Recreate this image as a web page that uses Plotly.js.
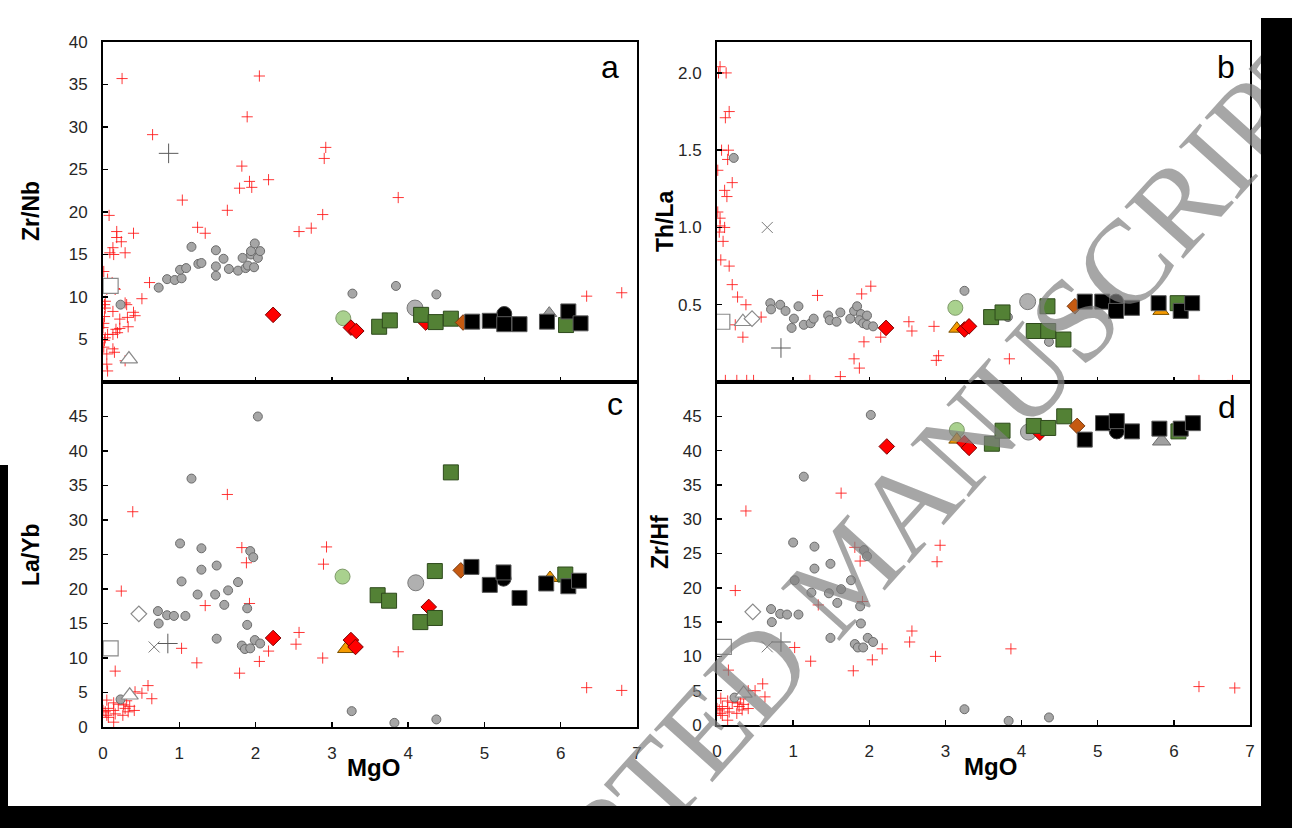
<!DOCTYPE html>
<html><head><meta charset="utf-8">
<script src="https://cdn.plot.ly/plotly-3.0.1.min.js"></script>
<style>
html,body{margin:0;padding:0;background:#fff;}
#wrap{position:relative;width:1292px;height:828px;overflow:hidden;}
#chart{position:absolute;left:0;top:0;width:1292px;height:828px;}
.blk{position:absolute;background:#000;}
</style></head>
<body><div id="wrap"><div id="chart"></div>
<div class="blk" style="left:1261px;top:18px;width:31px;height:810px"></div>
<div class="blk" style="left:0;top:806px;width:1292px;height:22px"></div>
<div class="blk" style="left:0;top:465px;width:8px;height:363px"></div>
</div>
<script>
// ---------- DATA: [MgO, ratio] pairs ----------
// Panel a : Zr/Nb
const aRedPlus = [[0.25,35.7],[2.05,36.0],[1.89,31.2],[0.65,29.1],[2.92,27.6],[2.90,26.3],[1.82,25.4],[1.92,23.6],[1.79,22.8],[1.95,22.9],[2.17,23.8],[1.04,21.4],[1.63,20.2],[2.88,19.7],[2.57,17.7],[2.73,18.1],[1.24,18.2],[1.34,17.5],[0.08,19.6],[0.18,17.7],[0.40,17.5],[0.18,17.0],[0.24,16.5],[0.13,15.8],[0.09,15.2],[0.14,15.0],[0.29,15.2],[0.01,13.0],[0.06,12.1],[0.12,11.7],[0.61,11.7],[0.16,10.9],[0.05,10.9],[0.15,11.0],[0.51,9.8],[0.03,9.5],[0.02,9.1],[0.29,9.3],[0.31,9.1],[0.13,8.3],[0.03,8.7],[0.40,8.2],[0.42,7.8],[0.22,7.4],[0.32,7.6],[0.33,6.5],[0.22,6.3],[0.02,7.7],[0.01,6.9],[0.0,6.4],[0.17,6.2],[0.13,5.6],[0.06,5.6],[0.03,5.2],[0.19,5.8],[0.02,4.9],[0.01,4.1],[0.13,3.9],[0.15,3.5],[0.05,3.3],[0.29,2.5],[0.05,2.1],[0.06,1.3],[3.87,21.7],[6.34,10.1],[6.80,10.5]];
const aGrayCircle = [[0.23,9.1],[0.73,11.1],[0.84,12.1],[0.94,12.0],[1.03,12.2],[1.01,13.2],[1.09,13.4],[1.16,15.9],[1.25,13.9],[1.29,14.0],[1.48,15.5],[1.48,13.6],[1.48,12.5],[1.58,14.5],[1.65,13.3],[1.77,13.1],[1.83,14.6],[1.87,13.4],[1.90,13.7],[1.94,15.0],[1.94,15.4],[1.99,16.3],[1.98,13.5],[2.03,14.6],[2.06,15.4],[3.27,10.4],[3.84,11.3],[4.37,10.3]];
const aBigGray = [[4.09,8.7]];
const aDarkPlus = [[0.86,26.9]];
const aGrayX = [];
const aOpenSquare = [[0.10,11.3]];
const aOpenTriangle = [[0.34,2.7]];
const aOpenDiamond = [];
const aLightGreen = [[3.15,7.5]];
const aOrangeTri = [];
const aRedDiamond = [[2.23,7.9],[3.25,6.4],[3.32,6.0],[4.23,7.0]];
const aGreenSquare = [[3.62,6.5],[3.76,7.25],[4.17,7.9],[4.36,7.05],[4.56,7.45],[6.07,6.7]];
const aBrownDiamond = [[4.72,7.0]];
const aGrayTri = [[5.85,8.1]];
const aBlackCircle = [[5.26,8.0]];
const aBlackSquare = [[4.84,7.1],[5.07,7.2],[5.26,6.8],[5.46,6.8],[5.82,7.1],[6.10,8.3],[6.26,6.9]];

// Panel b : Th/La
const bRedPlus = [[0.04,2.04],[0.02,2.0],[0.12,2.0],[0.16,1.75],[0.11,1.71],[0.06,1.50],[0.15,1.50],[0.14,1.44],[0.01,1.37],[0.20,1.29],[0.10,1.24],[0.13,1.20],[0.01,1.10],[0.04,1.06],[0.04,1.01],[0.10,1.0],[0.03,0.97],[0.08,0.91],[0.05,0.79],[0.16,0.75],[0.20,0.63],[0.27,0.55],[0.38,0.50],[0.58,0.42],[0.24,0.37],[0.34,0.29],[1.32,0.56],[2.02,0.62],[1.90,0.57],[1.93,0.26],[2.15,0.29],[1.80,0.15],[1.87,0.09],[1.62,0.035],[2.52,0.39],[2.56,0.33],[2.85,0.36],[2.91,0.17],[2.88,0.14],[3.84,0.15],[0.11,0.01],[0.26,0.01],[0.39,0.01],[0.48,0.01],[1.22,0.01],[6.33,0.01],[6.77,0.01]];
const bGrayCircle = [[0.70,0.51],[0.71,0.47],[0.83,0.50],[0.90,0.46],[1.07,0.49],[1.01,0.41],[0.98,0.35],[1.14,0.37],[1.23,0.38],[1.27,0.41],[1.46,0.43],[1.48,0.40],[1.57,0.39],[1.62,0.45],[1.75,0.41],[1.80,0.46],[1.84,0.49],[1.89,0.44],[1.87,0.40],[1.92,0.38],[1.97,0.43],[1.97,0.37],[2.05,0.36],[3.25,0.59],[0.22,1.45],[3.82,0.42],[4.36,0.26]];
const bBigGray = [[4.08,0.52]];
const bDarkPlus = [[0.84,0.22]];
const bGrayX = [[0.66,1.00]];
const bOpenSquare = [[0.07,0.39]];
const bOpenTriangle = [[0.34,0.39]];
const bOpenDiamond = [[0.46,0.41]];
const bLightGreen = [[3.13,0.48]];
const bOrangeTri = [[3.15,0.345],[5.83,0.46]];
const bRedDiamond = [[2.22,0.35],[3.25,0.34],[3.31,0.36]];
const bGreenSquare = [[3.60,0.42],[3.75,0.45],[4.34,0.49],[4.16,0.33],[4.35,0.33],[4.55,0.275],[6.05,0.51]];
const bBrownDiamond = [[4.70,0.49]];
const bGrayTri = [];
const bBlackCircle = [[5.24,0.52]];
const bBlackSquare = [[4.83,0.52],[5.06,0.52],[5.24,0.46],[5.45,0.48],[5.80,0.51],[6.09,0.46],[6.24,0.51]];

// Panel c : La/Yb
const cRedPlus = [[0.39,31.2],[1.63,33.7],[1.82,26.0],[1.88,23.8],[2.93,26.1],[2.89,23.6],[0.24,19.7],[1.34,17.6],[1.92,17.9],[2.57,13.7],[2.53,12.0],[1.03,11.4],[2.17,11.0],[2.88,10.0],[1.23,9.3],[2.05,9.5],[1.79,7.8],[0.16,8.1],[0.59,6.0],[0.64,4.1],[0.51,4.9],[0.42,5.1],[0.41,2.4],[0.05,3.9],[0.14,3.5],[0.20,3.3],[0.27,3.2],[0.31,3.8],[0.07,2.7],[0.03,2.2],[0.14,2.4],[0.05,1.7],[0.16,1.9],[0.29,2.7],[0.33,2.2],[0.26,1.7],[0.0,2.4],[0.14,0.7],[0.07,1.4],[0.35,3.0],[3.87,10.9],[6.34,5.7],[6.80,5.3]];
const cGrayCircle = [[2.03,45.0],[1.16,36.0],[1.01,26.6],[1.29,25.9],[1.29,22.8],[1.49,23.4],[1.03,21.1],[1.77,21.0],[1.64,19.8],[1.24,19.2],[1.47,19.2],[1.59,17.7],[1.93,25.5],[1.97,24.6],[1.89,17.2],[0.72,16.8],[0.73,15.0],[0.84,16.2],[0.93,16.1],[1.08,16.1],[1.89,14.8],[1.49,12.8],[1.99,12.6],[2.06,12.1],[1.82,11.8],[1.86,11.3],[1.93,11.4],[0.23,4.0],[3.26,2.3],[3.82,0.6],[4.37,1.1]];
const cBigGray = [[4.10,20.9]];
const cDarkPlus = [[0.85,12.1]];
const cGrayX = [[0.67,11.6]];
const cOpenSquare = [[0.10,11.4]];
const cOpenTriangle = [[0.35,4.6]];
const cOpenDiamond = [[0.47,16.4]];
const cLightGreen = [[3.14,21.8]];
const cOrangeTri = [[3.18,11.3],[5.86,21.6]];
const cRedDiamond = [[2.23,12.9],[3.25,12.6],[3.31,11.6],[4.27,17.4]];
const cGreenSquare = [[3.60,19.1],[3.75,18.3],[4.16,15.2],[4.35,15.8],[4.35,22.6],[4.56,36.9],[6.06,22.1]];
const cBrownDiamond = [[4.69,22.7]];
const cGrayTri = [];
const cBlackCircle = [[5.25,21.5]];
const cBlackSquare = [[4.83,23.2],[5.07,20.6],[5.25,22.4],[5.46,18.7],[5.81,20.8],[6.10,20.4],[6.24,21.2]];

// Panel d : Zr/Hf
const dRedPlus = [[0.38,31.2],[1.63,33.8],[1.81,25.9],[1.88,23.9],[2.93,26.2],[2.89,23.8],[0.24,19.6],[1.33,17.5],[1.91,18.0],[2.56,13.7],[2.53,12.1],[1.02,11.3],[2.17,11.1],[2.87,10.0],[1.23,9.3],[2.04,9.5],[1.79,7.9],[0.15,8.0],[0.60,6.0],[0.63,4.1],[0.50,5.0],[0.41,5.0],[0.41,2.4],[0.05,3.9],[0.14,3.5],[0.20,3.3],[0.27,3.2],[0.31,3.8],[0.07,2.7],[0.03,2.2],[0.14,2.4],[0.05,1.7],[0.16,1.9],[0.29,2.7],[0.33,2.2],[0.26,1.7],[0.0,2.4],[0.14,0.7],[0.07,1.4],[0.35,3.0],[3.86,11.1],[6.33,5.6],[6.80,5.4]];
const dGrayCircle = [[2.02,45.2],[1.14,36.2],[1.00,26.6],[1.28,26.0],[1.28,22.8],[1.49,23.5],[1.02,21.1],[1.76,21.1],[1.63,19.8],[1.24,19.3],[1.47,19.2],[1.58,17.8],[1.93,25.5],[1.97,24.6],[1.88,17.3],[0.71,16.9],[0.72,15.0],[0.83,16.2],[0.92,16.1],[1.07,16.1],[1.89,14.8],[1.49,12.7],[1.98,12.7],[2.05,12.1],[1.81,11.8],[1.85,11.3],[1.92,11.3],[0.23,4.0],[3.25,2.3],[3.83,0.6],[4.36,1.1]];
const dBigGray = [[4.09,42.7]];
const dDarkPlus = [[0.84,12.1]];
const dGrayX = [[0.66,11.4]];
const dOpenSquare = [[0.09,11.4]];
const dOpenTriangle = [[0.35,4.6]];
const dOpenDiamond = [[0.47,16.5]];
const dLightGreen = [[3.15,43.0]];
const dOrangeTri = [[3.15,41.6]];
const dRedDiamond = [[2.23,40.6],[3.25,41.1],[3.31,40.4],[4.24,42.6]];
const dGreenSquare = [[3.61,41.0],[3.75,42.9],[4.16,43.6],[4.35,43.3],[4.56,45.0],[6.06,42.8]];
const dBrownDiamond = [[4.73,43.6]];
const dGrayTri = [[5.84,41.4]];
const dBlackCircle = [[5.25,42.8]];
const dBlackSquare = [[4.83,41.6],[5.07,44.0],[5.25,44.3],[5.45,42.8],[5.81,43.2],[6.09,43.2],[6.25,44.0]];

// axis labels & ticks
const panelLetters = ['a','b','c','d'];
const yTitles = ['Zr/Nb','Th/La','La/Yb','Zr/Hf'];
const xTitle = 'MgO';
const watermark = 'ACCEPTED MANUSCRIPT';
const xTicks = [0,1,2,3,4,5,6,7];
const aYTicks = [5,10,15,20,25,30,35,40];
const bYTicks = [0.5,1.0,1.5,2.0];
const cdYTicks = [0,5,10,15,20,25,30,35,40,45];

// ---------- STYLES ----------
const S = {
  redPlus:   {symbol:'cross-thin', size:8, color:'rgba(255,20,20,0.85)', line:{color:'rgba(255,20,20,0.85)', width:1}},
  grayCircle:{symbol:'circle', size:9, color:'#a6a6a6', line:{color:'#6b6b6b', width:1}},
  bigGray:   {symbol:'circle', size:16, color:'#b0b0b0', line:{color:'#7a7a7a', width:1}},
  darkPlus:  {symbol:'cross-thin', size:14, color:'#5a5a5a', line:{color:'#5a5a5a', width:1}},
  grayX:     {symbol:'x-thin', size:11, color:'#7a7a7a', line:{color:'#7a7a7a', width:1}},
  openSquare:{symbol:'square', size:15, color:'#ffffff', line:{color:'#8a8a8a', width:1.2}},
  openTri:   {symbol:'triangle-up', size:15, color:'#ffffff', line:{color:'#8a8a8a', width:1.2}},
  openDia:   {symbol:'diamond', size:12, color:'#ffffff', line:{color:'#8a8a8a', width:1.2}},
  lightGreen:{symbol:'circle', size:15, color:'#a9d18e', line:{color:'#7f9a6a', width:1}},
  orangeTri: {symbol:'triangle-up', size:14, color:'#f59a00', line:{color:'#7a5000', width:1}},
  redDia:    {symbol:'diamond', size:12, color:'#ff0000', line:{color:'#7a0000', width:1}},
  greenSq:   {symbol:'square', size:15, color:'#538135', line:{color:'#2e4a1c', width:1}},
  brownDia:  {symbol:'diamond', size:12, color:'#c55a11', line:{color:'#7a3a10', width:1}},
  grayTri:   {symbol:'triangle-up', size:13, color:'#a0a0a0', line:{color:'#6e6e6e', width:1}},
  blackCircle:{symbol:'circle', size:15, color:'#000000', line:{color:'#404040', width:1}},
  blackSq:   {symbol:'square', size:15, color:'#000000', line:{color:'#5a5a5a', width:1}}
};

const panels = [
  {xa:'x', ya:'y', sets:[[aRedPlus,'redPlus'],[aGrayCircle,'grayCircle'],[aDarkPlus,'darkPlus'],[aGrayX,'grayX'],[aOpenSquare,'openSquare'],[aOpenTriangle,'openTri'],[aOpenDiamond,'openDia'],[aBigGray,'bigGray'],[aLightGreen,'lightGreen'],[aOrangeTri,'orangeTri'],[aRedDiamond,'redDia'],[aGreenSquare,'greenSq'],[aBrownDiamond,'brownDia'],[aGrayTri,'grayTri'],[aBlackCircle,'blackCircle'],[aBlackSquare,'blackSq']]},
  {xa:'x2', ya:'y2', sets:[[bRedPlus,'redPlus'],[bGrayCircle,'grayCircle'],[bDarkPlus,'darkPlus'],[bGrayX,'grayX'],[bOpenSquare,'openSquare'],[bOpenTriangle,'openTri'],[bOpenDiamond,'openDia'],[bBigGray,'bigGray'],[bLightGreen,'lightGreen'],[bOrangeTri,'orangeTri'],[bRedDiamond,'redDia'],[bGreenSquare,'greenSq'],[bBrownDiamond,'brownDia'],[bGrayTri,'grayTri'],[bBlackCircle,'blackCircle'],[bBlackSquare,'blackSq']]},
  {xa:'x3', ya:'y3', sets:[[cRedPlus,'redPlus'],[cGrayCircle,'grayCircle'],[cDarkPlus,'darkPlus'],[cGrayX,'grayX'],[cOpenSquare,'openSquare'],[cOpenTriangle,'openTri'],[cOpenDiamond,'openDia'],[cBigGray,'bigGray'],[cLightGreen,'lightGreen'],[cOrangeTri,'orangeTri'],[cRedDiamond,'redDia'],[cGreenSquare,'greenSq'],[cBrownDiamond,'brownDia'],[cGrayTri,'grayTri'],[cBlackCircle,'blackCircle'],[cBlackSquare,'blackSq']]},
  {xa:'x4', ya:'y4', sets:[[dRedPlus,'redPlus'],[dGrayCircle,'grayCircle'],[dDarkPlus,'darkPlus'],[dGrayX,'grayX'],[dOpenSquare,'openSquare'],[dOpenTriangle,'openTri'],[dOpenDiamond,'openDia'],[dBigGray,'bigGray'],[dLightGreen,'lightGreen'],[dOrangeTri,'orangeTri'],[dRedDiamond,'redDia'],[dGreenSquare,'greenSq'],[dBrownDiamond,'brownDia'],[dGrayTri,'grayTri'],[dBlackCircle,'blackCircle'],[dBlackSquare,'blackSq']]}
];

const traces = [];
panels.forEach(p => {
  p.sets.forEach(([pts, key]) => {
    if (!pts.length) return;
    const st = S[key];
    let m = {symbol:st.symbol, size:st.size, color:st.color, line:st.line};
    if (key === 'grayTri' && p.xa === 'x4') m = Object.assign({}, m, {size:16});
    traces.push({type:'scatter', mode:'markers', x:pts.map(q=>q[0]), y:pts.map(q=>q[1]),
      xaxis:p.xa, yaxis:p.ya, marker:m, hoverinfo:'x+y', showlegend:false});
  });
});

// ---------- LAYOUT ----------
const W = 1292, H = 828;
const PX = v => v / W, PY = v => 1 - v / H;
const tickFont = {family:'Liberation Sans, Arial, sans-serif', size:17, color:'#262626'};
function ax(extra){
  return Object.assign({showgrid:false, zeroline:false, showline:true, linecolor:'#000', linewidth:2,
    mirror:true, ticks:'inside', ticklen:5, tickwidth:1.5, tickcolor:'#000', tickfont:tickFont, fixedrange:true}, extra);
}
const layout = {
  width:W, height:H, margin:{l:0,r:0,t:0,b:0}, paper_bgcolor:'#fff', plot_bgcolor:'#fff', showlegend:false,
  xaxis:  ax({domain:[PX(103),PX(637)], anchor:'y', range:[0,7], tickvals:xTicks, showticklabels:false}),
  yaxis:  ax({domain:[PY(382),PY(42)], anchor:'x', range:[0,40], tickvals:aYTicks, ticklabelstandoff:10}),
  xaxis2: ax({domain:[PX(717),PX(1250)], anchor:'y2', range:[0,7], tickvals:xTicks, showticklabels:false}),
  yaxis2: ax({domain:[PY(382),PY(42)], anchor:'x2', range:[0,2.2], tickvals:bYTicks, tickformat:'.1f', ticklabelstandoff:10}),
  xaxis3: ax({domain:[PX(103),PX(637)], anchor:'y3', range:[0,7], tickvals:xTicks, ticklabelstandoff:10}),
  yaxis3: ax({domain:[PY(727),PY(382)], anchor:'x3', range:[0,50], tickvals:cdYTicks, ticklabelstandoff:10}),
  xaxis4: ax({domain:[PX(717),PX(1250)], anchor:'y4', range:[0,7], tickvals:xTicks, ticklabelstandoff:10}),
  yaxis4: ax({domain:[PY(725),PY(382)], anchor:'x4', range:[0,50], tickvals:cdYTicks, ticklabelstandoff:10}),
  annotations: []
};
const titleFont = {family:'Liberation Sans, Arial, sans-serif', size:23, color:'#000', weight:'bold'};
const letterFont = {family:'Liberation Sans, Arial, sans-serif', size:32, color:'#000'};
const ann = (text, x, y, font, angle) => ({text, x:PX(x), y:PY(y), xref:'paper', yref:'paper',
  xanchor:'center', yanchor:'middle', showarrow:false, font, textangle:angle||0});
layout.annotations.push(ann('<b>'+yTitles[0]+'</b>', 31, 211, titleFont, -90));
layout.annotations.push(ann('<b>'+yTitles[1]+'</b>', 665, 221, titleFont, -90));
layout.annotations.push(ann('<b>'+yTitles[2]+'</b>', 31, 555, titleFont, -90));
layout.annotations.push(ann('<b>'+yTitles[3]+'</b>', 660, 542, titleFont, -90));
layout.annotations.push(ann('<b>'+xTitle+'</b>', 373, 767, Object.assign({}, titleFont, {size:24})));
layout.annotations.push(ann('<b>'+xTitle+'</b>', 990, 766, Object.assign({}, titleFont, {size:24})));
layout.annotations.push(ann(panelLetters[0], 610, 67, letterFont));
layout.annotations.push(ann(panelLetters[1], 1226, 67, letterFont));
layout.annotations.push(ann(panelLetters[2], 615, 404, letterFont));
layout.annotations.push(ann(panelLetters[3], 1227, 407, letterFont));
// diagonal watermark (partly cut by the page edges, as in the reference)
layout.annotations.push(ann(watermark, 848, 570,
  {family:'Liberation Serif, DejaVu Serif, serif', size:120, color:'rgba(128,128,128,0.7)'}, -48));

Plotly.newPlot('chart', traces, layout, {staticPlot:true, displayModeBar:false});
</script>
</body></html>
